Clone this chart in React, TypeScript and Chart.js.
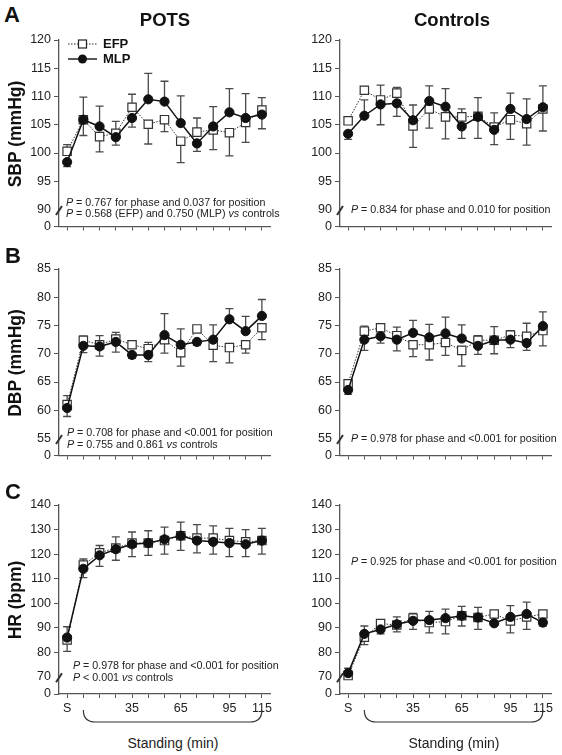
import React, { useEffect, useRef } from 'react';
import { Chart, registerables } from 'chart.js';

Chart.register(...registerables);

const FONT = '"Liberation Sans", Arial, Helvetica, sans-serif';

// ---------- data ----------
const categories = ['S', '5', '15', '25', '35', '45', '55', '65', '75', '85', '95', '105', '115'];
const shownTicks = ['S', '35', '65', '95', '115'];

// POTS SBP
const potsSbpEfp = [100.3, 105.9, 102.9, 103.5, 108.1, 105.1, 105.9, 102.1, 103.7, 104.1, 103.6, 105.4, 107.6];
const potsSbpMlp = [98.4, 105.9, 104.7, 102.8, 106.2, 109.5, 109.1, 105.3, 101.7, 104.7, 107.2, 106.2, 106.8];
const potsSbpEfpErr = [1.2, -2.8, -2.7, 2.1, 2.3, -3.5, -2.1, -3.8, 2.5, -3.5, -4.1, -3.5, 2.2];
const potsSbpMlpErr = [-0.8, 4.0, 3.6, -1.4, -1.6, 4.6, 3.6, 4.8, -1.4, 3.5, 4.2, 4.3, -2.5];

// Controls SBP
const ctrlSbpEfp = [105.7, 111.1, 109.4, 110.6, 104.8, 107.8, 106.4, 106.4, 106.5, 104.6, 105.9, 105.2, 107.8];
const ctrlSbpMlp = [103.4, 106.6, 108.6, 108.8, 105.8, 109.2, 108.2, 104.7, 106.4, 104.1, 107.8, 106.0, 108.1];
const ctrlSbpEfpErr = [0.5, 0.6, 2.6, 1.0, -3.8, -3.4, -3.9, 1.4, -3.9, 2.5, -3.5, -3.8, -3.9];
const ctrlSbpMlpErr = [-1.0, 2.8, -3.6, -2.3, 2.7, 2.7, 3.2, -2.1, 3.4, -2.6, 2.8, 3.6, 3.8];

// POTS DBP
const potsDbpEfp = [61.0, 72.4, 71.6, 72.6, 71.6, 70.9, 72.5, 70.2, 74.4, 71.5, 71.1, 71.6, 74.6];
const potsDbpMlp = [60.4, 71.4, 71.3, 72.1, 69.8, 69.8, 73.3, 71.6, 72.1, 72.5, 76.1, 74.0, 76.7];
const potsDbpEfpErr = [1.6, 0.7, 1.6, 1.2, 0.5, 1.1, -2.4, -2.4, 0.5, -2.9, -2.7, -1.5, -2.1];
const potsDbpMlpErr = [-1.5, -1.2, -1.7, -1.8, -0.6, -1.2, 3.8, 2.8, -0.6, 2.6, 1.9, 2.6, 2.9];

// Controls DBP
const ctrlDbpEfp = [64.7, 74.0, 74.6, 73.2, 71.6, 71.6, 72.0, 70.6, 72.4, 72.4, 73.3, 73.1, 74.1];
const ctrlDbpMlp = [63.6, 72.5, 73.1, 72.5, 73.7, 72.9, 73.6, 72.7, 71.4, 72.4, 72.5, 71.9, 74.9];
const ctrlDbpEfpErr = [0.5, 0.9, 0.7, 1.5, -2.1, -2.7, -2.3, -2.8, 0.8, 2.4, 0.8, 2.3, -2.7];
const ctrlDbpMlpErr = [-0.8, -1.9, -1.2, -2.0, 2.2, 2.3, 2.9, 2.4, -1.5, -2.4, -1.4, -1.3, 2.5];

// POTS HR
const potsHrEfp = [85.0, 115.5, 120.5, 122.5, 124.5, 124.5, 125.5, 127.5, 126.5, 126.5, 125.5, 125.0, 125.5];
const potsHrMlp = [86.0, 114.0, 119.5, 122.0, 124.0, 124.5, 126.0, 127.5, 125.5, 125.0, 124.5, 124.0, 125.5];
const potsHrEfpErr = [-4.6, 2.5, 3.0, 4.5, 4.5, 5.0, 5.5, 5.5, 5.5, 5.0, 5.0, 5.0, 5.0];
const potsHrMlpErr = [4.4, -3.6, -4.5, -4.5, -5.0, -5.0, -6.0, -6.0, -5.0, -5.0, -5.5, -5.0, -5.5];

// Controls HR
const ctrlHrEfp = [70.5, 86.1, 91.7, 91.1, 93.9, 92.1, 92.5, 94.9, 94.2, 95.6, 92.8, 94.4, 95.6];
const ctrlHrMlp = [71.5, 87.5, 89.3, 91.4, 92.8, 93.1, 93.9, 94.9, 94.2, 91.8, 94.4, 95.6, 92.1];
const ctrlHrEfpErr = [-1.0, -3.0, 1.1, -2.8, 1.9, -4.2, -5.0, -4.2, -4.9, 0.6, -4.9, -5.1, 0.6];
const ctrlHrMlpErr = [2.0, 3.2, -1.8, 3.0, -3.5, 3.6, 3.7, 3.8, 4.1, -0.4, 4.6, 4.8, -1.4];

// axis settings per row: [SBP, DBP, HR]
const yZero = [87, 52, 63];
const yBreak = [90, 55, 70];
const yMax = [120, 85, 140];
const yStep = [5, 5, 10];

type PanelDef = {
  efp: number[];
  mlp: number[];
  efpErr: number[];
  mlpErr: number[];
  row: number;
  col: number;
  legend?: boolean;
};

const panels: PanelDef[] = [
  { efp: potsSbpEfp, mlp: potsSbpMlp, efpErr: potsSbpEfpErr, mlpErr: potsSbpMlpErr, row: 0, col: 0, legend: true },
  { efp: ctrlSbpEfp, mlp: ctrlSbpMlp, efpErr: ctrlSbpEfpErr, mlpErr: ctrlSbpMlpErr, row: 0, col: 1 },
  { efp: potsDbpEfp, mlp: potsDbpMlp, efpErr: potsDbpEfpErr, mlpErr: potsDbpMlpErr, row: 1, col: 0 },
  { efp: ctrlDbpEfp, mlp: ctrlDbpMlp, efpErr: ctrlDbpEfpErr, mlpErr: ctrlDbpMlpErr, row: 1, col: 1 },
  { efp: potsHrEfp, mlp: potsHrMlp, efpErr: potsHrEfpErr, mlpErr: potsHrMlpErr, row: 2, col: 0 },
  { efp: ctrlHrEfp, mlp: ctrlHrMlp, efpErr: ctrlHrEfpErr, mlpErr: ctrlHrMlpErr, row: 2, col: 1 },
];

// ---------- layout ----------
const rowAreaTop = [40, 269, 505];
const AREA_H = 189;
const PAD_T = 12;
const colLeft = [0, 280];
const colWidth = [330, 282];
const colYW = [59, 60];
const colPadR = [60, 11];

const AXIS = '#555';
const INK = '#222';

function PanelChart({ p }: { p: PanelDef }) {
  const ref = useRef<HTMLCanvasElement>(null);
  const isBottom = p.row === 2;
  const xH = isBottom ? 40 : 8;
  const width = colWidth[p.col];
  const height = PAD_T + AREA_H + xH;

  useEffect(() => {
    const canvas = ref.current;
    if (!canvas) return;
    const r = p.row;
    const zero = yZero[r];
    const brk = yBreak[r];

    const errPlugin = {
      id: 'errbars',
      beforeDatasetsDraw(chart: any) {
        const ctx = chart.ctx;
        const ys = chart.scales.y;
        ctx.save();
        ctx.strokeStyle = '#4a4a4a';
        ctx.lineWidth = 1.3;
        [p.efpErr, p.mlpErr].forEach((errs, di) => {
          const meta = chart.getDatasetMeta(di);
          const vals = chart.data.datasets[di].data as number[];
          meta.data.forEach((pt: any, j: number) => {
            const e = errs[j];
            if (!e) return;
            const y1 = ys.getPixelForValue(vals[j] + e);
            ctx.beginPath();
            ctx.moveTo(pt.x, pt.y);
            ctx.lineTo(pt.x, y1);
            ctx.moveTo(pt.x - 4, y1);
            ctx.lineTo(pt.x + 4, y1);
            ctx.stroke();
          });
        });
        ctx.restore();
      },
    };

    const decoPlugin = {
      id: 'deco',
      afterDraw(chart: any) {
        const ctx = chart.ctx;
        const ys = chart.scales.y;
        const xs = chart.scales.x;
        const area = chart.chartArea;
        // axis break mark
        const bx = area.left;
        const by = ys.getPixelForValue(brk) + 1;
        ctx.save();
        ctx.strokeStyle = '#333';
        ctx.lineWidth = 2;
        ctx.beginPath();
        ctx.moveTo(bx - 3, by + 4.5);
        ctx.lineTo(bx + 3, by - 4.5);
        ctx.stroke();
        ctx.restore();

        if (isBottom) {
          const x1 = xs.getPixelForValue(1);
          const x2 = xs.getPixelForValue(12);
          const yTop = area.bottom + 16;
          const yBot = area.bottom + 28;
          ctx.save();
          ctx.strokeStyle = '#333';
          ctx.lineWidth = 1.2;
          ctx.beginPath();
          ctx.moveTo(x1, yTop);
          ctx.quadraticCurveTo(x1, yBot, x1 + 12, yBot);
          ctx.lineTo(x2 - 12, yBot);
          ctx.quadraticCurveTo(x2, yBot, x2, yTop);
          ctx.stroke();
          ctx.restore();
        }

        if (p.legend) {
          const lx = area.left + 9;
          const items = [
            { label: 'EFP', y: area.top + 4, dash: [1.5, 1.5], lw: 1, square: true },
            { label: 'MLP', y: area.top + 19, dash: [], lw: 1.5, square: false },
          ];
          ctx.save();
          items.forEach((it) => {
            ctx.strokeStyle = '#222';
            ctx.lineWidth = it.lw;
            ctx.setLineDash(it.dash);
            ctx.beginPath();
            ctx.moveTo(lx, it.y);
            ctx.lineTo(lx + 29, it.y);
            ctx.stroke();
            ctx.setLineDash([]);
            const mx = lx + 14.5;
            if (it.square) {
              ctx.fillStyle = '#fff';
              ctx.lineWidth = 1.2;
              ctx.fillRect(mx - 4, it.y - 4, 8, 8);
              ctx.strokeRect(mx - 4, it.y - 4, 8, 8);
            } else {
              ctx.fillStyle = '#111';
              ctx.beginPath();
              ctx.arc(mx, it.y, 4.5, 0, Math.PI * 2);
              ctx.fill();
            }
            ctx.fillStyle = '#111';
            ctx.font = `bold 13px ${FONT}`;
            ctx.textBaseline = 'middle';
            ctx.textAlign = 'left';
            ctx.fillText(it.label, lx + 35, it.y + 0.5);
          });
          ctx.restore();
        }
      },
    };

    const chart = new Chart(canvas, {
      type: 'line',
      data: {
        labels: categories,
        datasets: [
          {
            label: 'EFP',
            data: p.efp,
            borderColor: '#333',
            borderWidth: 1,
            borderDash: [1.5, 1.5],
            pointStyle: 'rect',
            pointRadius: 5.9,
            pointBackgroundColor: '#fff',
            pointBorderColor: '#333',
            pointBorderWidth: 1.2,
            tension: 0,
            order: 2,
          },
          {
            label: 'MLP',
            data: p.mlp,
            borderColor: '#111',
            borderWidth: 1.5,
            pointStyle: 'circle',
            pointRadius: 4.6,
            pointBackgroundColor: '#111',
            pointBorderColor: '#111',
            pointBorderWidth: 1,
            tension: 0,
            order: 1,
          },
        ],
      },
      options: {
        animation: false,
        responsive: false,
        devicePixelRatio: 1,
        layout: { padding: { top: PAD_T, right: colPadR[p.col], left: 0, bottom: 0 } },
        plugins: { legend: { display: false }, tooltip: { enabled: false } },
        scales: {
          x: {
            type: 'category',
            offset: true,
            grid: { drawOnChartArea: false, drawTicks: true, tickLength: 4, color: AXIS, lineWidth: 1 },
            border: { color: AXIS, width: 1.3 },
            ticks: {
              autoSkip: false,
              maxRotation: 0,
              minRotation: 0,
              padding: 3,
              color: INK,
              font: { family: FONT, size: 12.5 },
              callback: (_v: any, i: number) => {
                const l = categories[i];
                return isBottom && shownTicks.includes(l) ? l : '';
              },
            },
            afterFit: (s: any) => {
              s.height = xH;
            },
          } as any,
          y: {
            type: 'linear',
            min: zero,
            max: yMax[r],
            afterBuildTicks: (s: any) => {
              const t = [{ value: zero }];
              for (let v = brk; v <= yMax[r] + 0.001; v += yStep[r]) t.push({ value: v });
              s.ticks = t;
            },
            grid: {
              drawOnChartArea: false,
              drawTicks: true,
              tickLength: 5,
              color: (c: any) => (c.tick && c.tick.value === brk ? 'rgba(0,0,0,0)' : AXIS),
            },
            border: { color: AXIS, width: 1.3 },
            ticks: {
              padding: 3,
              color: INK,
              font: { family: FONT, size: 12.5 },
              callback: (v: any) => (v === zero ? '0' : String(v)),
            },
            afterFit: (s: any) => {
              s.width = colYW[p.col];
            },
          } as any,
        },
      },
      plugins: [errPlugin, decoPlugin],
    });
    return () => chart.destroy();
  }, []);

  return (
    <canvas
      ref={ref}
      width={width}
      height={height}
      style={{
        position: 'absolute',
        left: colLeft[p.col],
        top: rowAreaTop[p.row] - PAD_T,
        width,
        height,
      }}
    />
  );
}

function T({ x, y, children, style }: { x: number; y: number; children: any; style?: any }) {
  return (
    <div
      style={{
        position: 'absolute',
        left: x,
        top: y,
        transform: 'translateY(-50%)',
        whiteSpace: 'nowrap',
        lineHeight: 1,
        ...style,
      }}
    >
      {children}
    </div>
  );
}

function C({ x, y, children, style }: { x: number; y: number; children: any; style?: any }) {
  return (
    <div
      style={{
        position: 'absolute',
        left: x,
        top: y,
        transform: 'translate(-50%, -50%)',
        whiteSpace: 'nowrap',
        lineHeight: 1,
        ...style,
      }}
    >
      {children}
    </div>
  );
}

function YTitle({ x, y, text }: { x: number; y: number; text: string }) {
  return (
    <div
      style={{
        position: 'absolute',
        left: x,
        top: y,
        transform: 'translate(-50%, -50%) rotate(-90deg)',
        whiteSpace: 'nowrap',
        lineHeight: 1,
        fontWeight: 'bold',
        fontSize: 17.5,
        color: '#111',
      }}
    >
      {text}
    </div>
  );
}

const pStyle = { fontSize: 10.7, color: INK };

export default function App() {
  useEffect(() => {
    document.body.style.margin = '0';
  }, []);
  return (
    <div
      style={{
        position: 'absolute',
        left: 0,
        top: 0,
        width: 562,
        height: 755,
        background: '#fff',
        fontFamily: FONT,
        color: INK,
        overflow: 'hidden',
      }}
    >
      {panels.map((p, i) => (
        <PanelChart key={i} p={p} />
      ))}

      <C x={12} y={15} style={{ fontWeight: 'bold', fontSize: 22, color: '#111' }}>A</C>
      <C x={13} y={256} style={{ fontWeight: 'bold', fontSize: 22, color: '#111' }}>B</C>
      <C x={13} y={492} style={{ fontWeight: 'bold', fontSize: 22, color: '#111' }}>C</C>

      <C x={165} y={20} style={{ fontWeight: 'bold', fontSize: 18.5, color: '#111' }}>POTS</C>
      <C x={452} y={20} style={{ fontWeight: 'bold', fontSize: 18.5, color: '#111' }}>Controls</C>

      <YTitle x={16} y={134} text="SBP (mmHg)" />
      <YTitle x={16} y={363} text="DBP (mmHg)" />
      <YTitle x={16} y={600} text="HR (bpm)" />

      <C x={173} y={743} style={{ fontSize: 14 }}>Standing (min)</C>
      <C x={454} y={743} style={{ fontSize: 14 }}>Standing (min)</C>

      <T x={66} y={201.7} style={pStyle}><i>P</i> = 0.767 for phase and 0.037 for position</T>
      <T x={66} y={213.3} style={pStyle}><i>P</i> = 0.568 (EFP) and 0.750 (MLP) <i>vs</i> controls</T>
      <T x={351} y={208.7} style={pStyle}><i>P</i> = 0.834 for phase and 0.010 for position</T>

      <T x={67} y={432} style={pStyle}><i>P</i> = 0.708 for phase and &lt;0.001 for position</T>
      <T x={67} y={443.5} style={pStyle}><i>P</i> = 0.755 and 0.861 <i>vs</i> controls</T>
      <T x={351} y={438} style={pStyle}><i>P</i> = 0.978 for phase and &lt;0.001 for position</T>

      <T x={73} y={665} style={pStyle}><i>P</i> = 0.978 for phase and &lt;0.001 for position</T>
      <T x={73} y={676.5} style={pStyle}><i>P</i> &lt; 0.001 <i>vs</i> controls</T>
      <T x={351} y={561} style={pStyle}><i>P</i> = 0.925 for phase and &lt;0.001 for position</T>
    </div>
  );
}
